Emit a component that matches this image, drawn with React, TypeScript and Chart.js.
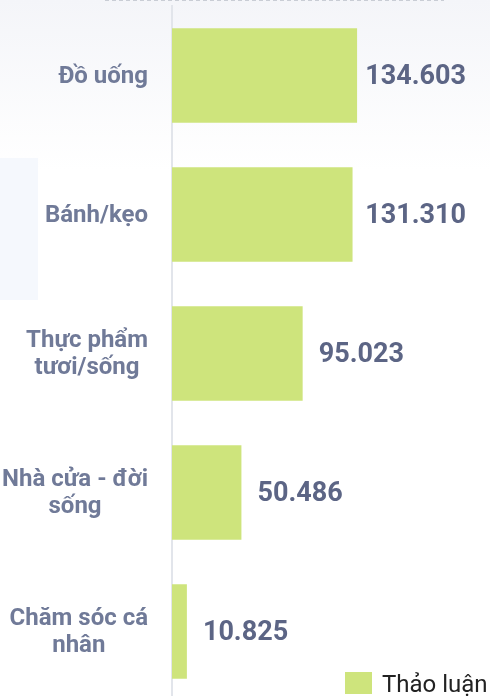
import React, { useEffect, useRef } from "react";
import { Chart, registerables } from "chart.js";

Chart.register(...registerables);

// ---- data ----
const categories: string[][] = [
  ["Đồ uống"],
  ["Bánh/kẹo"],
  ["Thực phẩm", "tươi/sống"],
  ["Nhà cửa - đời", "sống"],
  ["Chăm sóc cá", "nhân"],
];
const seriesName = "Thảo luận";
const values = [134603, 131310, 95023, 50486, 10825];
const xMin = 0;
const xMax = 200000;

// ---- styles ----
const BAR_COLOR = "#cee47c";
const VALUE_COLOR = "#5c6585";
const TICK_COLOR = "#707a98";
const FONT = "Roboto, 'Noto Sans', sans-serif";

const fmt = (v: number) => String(v).replace(/\B(?=(\d{3})+(?!\d))/g, ".");

const bgPlugin = {
  id: "bgPlugin",
  beforeDraw(chart: any) {
    const { ctx, width, height } = chart;
    ctx.save();
    const g = ctx.createLinearGradient(0, 0, 0, 170);
    g.addColorStop(0, "#f4f5f9");
    g.addColorStop(1, "#ffffff");
    ctx.fillStyle = g;
    ctx.fillRect(0, 0, width, height);
    // faint watermark
    ctx.fillStyle = "#f5f8fd";
    ctx.fillRect(0, 158, 38, 142);
    // dashed line at very top
    ctx.strokeStyle = "#c9cdd5";
    ctx.lineWidth = 1;
    ctx.setLineDash([4, 3]);
    ctx.beginPath();
    ctx.moveTo(105, 0.5);
    ctx.lineTo(444, 0.5);
    ctx.stroke();
    ctx.restore();
  },
};

const labelPlugin = {
  id: "labelPlugin",
  afterDatasetsDraw(chart: any) {
    const { ctx, chartArea } = chart;
    const meta = chart.getDatasetMeta(0);
    ctx.save();
    // value labels (clamped inside right limit)
    ctx.font = `bold 27px ${FONT}`;
    ctx.fillStyle = VALUE_COLOR;
    ctx.textAlign = "left";
    ctx.textBaseline = "middle";
    const limit = chartArea.right + 19;
    meta.data.forEach((bar: any, i: number) => {
      const t = fmt(values[i]);
      const w = ctx.measureText(t).width;
      const x = Math.min(bar.x + 16, limit - w);
      ctx.fillText(t, x, bar.y + 2);
    });
    // category labels: block right aligned, lines centered
    const yScale = chart.scales.y;
    const rightEdge = yScale.right - 24;
    const lh = 27;
    ctx.font = `bold 24px ${FONT}`;
    ctx.fillStyle = TICK_COLOR;
    ctx.textAlign = "center";
    categories.forEach((lines, i) => {
      const cy = yScale.getPixelForTick(i) + 1;
      const w = Math.max(...lines.map((l) => ctx.measureText(l).width));
      const cx = rightEdge - w / 2;
      const y0 = cy - ((lines.length - 1) * lh) / 2;
      lines.forEach((l, j) => ctx.fillText(l, cx, y0 + j * lh));
    });
    ctx.restore();
  },
};

export default function App() {
  const ref = useRef<HTMLCanvasElement | null>(null);

  useEffect(() => {
    if (!ref.current) return;
    const chart = new Chart(ref.current, {
      type: "bar",
      data: {
        labels: categories,
        datasets: [
          {
            label: seriesName,
            data: values,
            backgroundColor: BAR_COLOR,
            borderWidth: 0,
            barPercentage: 0.68,
            categoryPercentage: 1,
          },
        ],
      },
      options: {
        indexAxis: "y",
        responsive: true,
        maintainAspectRatio: false,
        animation: false,
        layout: { padding: { top: 6, right: 43, left: 0, bottom: 0 } },
        plugins: {
          legend: { display: false },
          tooltip: { enabled: false },
        },
        scales: {
          x: { display: false, min: xMin, max: xMax },
          y: {
            grid: { display: false },
            border: { display: true, color: "#e2e5eb", width: 2 },
            ticks: { display: false },
            afterFit: (s: any) => {
              s.width = 172;
            },
          },
        },
      },
      plugins: [bgPlugin, labelPlugin],
    });
    return () => chart.destroy();
  }, []);

  return (
    <div
      style={{
        position: "absolute",
        left: 0,
        top: 0,
        width: 490,
        height: 696,
        overflow: "hidden",
        background: "#fff",
      }}
    >
      <div style={{ position: "absolute", left: 0, top: 0, width: 490, height: 701 }}>
        <canvas ref={ref} />
      </div>
      <div
        style={{
          position: "absolute",
          left: 345,
          top: 672,
          display: "flex",
          alignItems: "flex-start",
          fontFamily: FONT,
          fontSize: 24,
          color: "#222",
          whiteSpace: "nowrap",
        }}
      >
        <span
          style={{ display: "inline-block", width: 27, height: 22, background: BAR_COLOR, marginRight: 10 }}
        />
        <span style={{ lineHeight: "24px" }}>{seriesName}</span>
      </div>
    </div>
  );
}
